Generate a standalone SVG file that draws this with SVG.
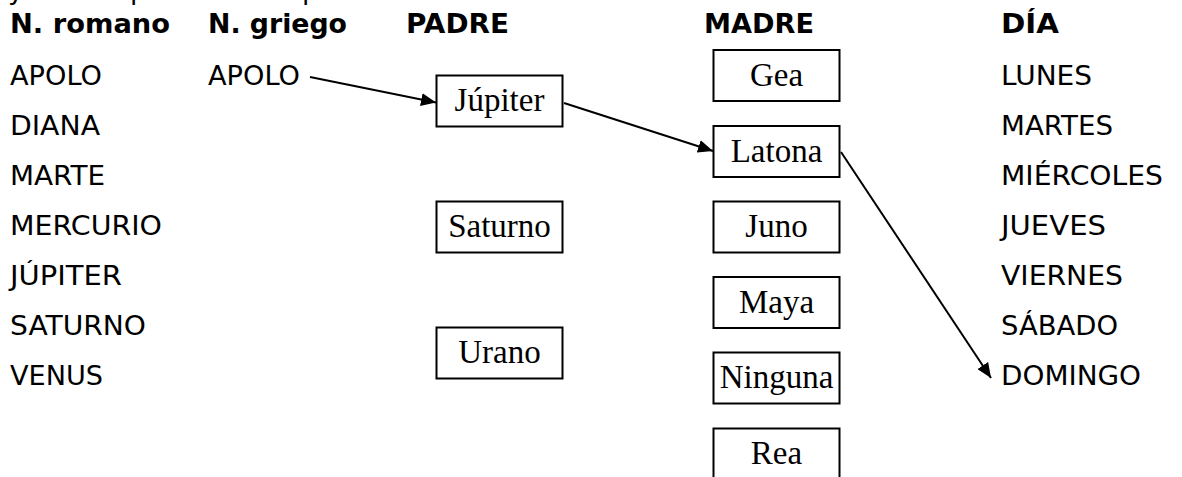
<svg xmlns="http://www.w3.org/2000/svg" width="1182" height="477" viewBox="0 0 1182 477">
<style>
.bg{fill:#ffffff}
.h{font-family:"DejaVu Sans",Verdana,sans-serif;font-size:27px;font-weight:bold;fill:#000}
.t{font-family:"DejaVu Sans",Verdana,sans-serif;font-size:27px;fill:#000}
.box rect{fill:#fff;stroke:#000;stroke-width:2}
.box text{font-family:"Liberation Serif","Times New Roman",serif;font-size:33px;fill:#000;text-anchor:middle}
.conn line{stroke:#000;stroke-width:2;fill:none}
</style>
<defs>
<marker id="ah" markerWidth="15" markerHeight="13" refX="15" refY="6.5" orient="auto" markerUnits="userSpaceOnUse">
<path d="M0,0 L15,6.5 L0,13 Z" fill="#000"/>
</marker>
</defs>
<rect class="bg" x="0" y="0" width="1182" height="477"/>
<g id="cutoff">
<text class="t" x="8" y="-1">y</text>
<text class="t" x="130" y="-1">p</text>
<text class="t" x="302" y="-1">p</text>
</g>
<g id="headers">
<text class="h" x="10" y="33" textLength="160" lengthAdjust="spacingAndGlyphs">N. romano</text>
<text class="h" x="208" y="33" textLength="139" lengthAdjust="spacingAndGlyphs">N. griego</text>
<text class="h" x="406" y="33" textLength="103" lengthAdjust="spacingAndGlyphs">PADRE</text>
<text class="h" x="704" y="33" textLength="110" lengthAdjust="spacingAndGlyphs">MADRE</text>
<text class="h" x="1001" y="33" textLength="58" lengthAdjust="spacingAndGlyphs">DÍA</text>
</g>
<g id="romanos">
<text class="t" x="10" y="85" textLength="92" lengthAdjust="spacingAndGlyphs">APOLO</text>
<text class="t" x="10" y="135" textLength="90" lengthAdjust="spacingAndGlyphs">DIANA</text>
<text class="t" x="10" y="185" textLength="95" lengthAdjust="spacingAndGlyphs">MARTE</text>
<text class="t" x="10" y="235" textLength="152" lengthAdjust="spacingAndGlyphs">MERCURIO</text>
<text class="t" x="10" y="285" textLength="112" lengthAdjust="spacingAndGlyphs">JÚPITER</text>
<text class="t" x="10" y="335" textLength="136" lengthAdjust="spacingAndGlyphs">SATURNO</text>
<text class="t" x="10" y="385" textLength="93" lengthAdjust="spacingAndGlyphs">VENUS</text>
</g>
<g id="griego">
<text class="t" x="208" y="85" textLength="92" lengthAdjust="spacingAndGlyphs">APOLO</text>
</g>
<g id="dias">
<text class="t" x="1001" y="85" textLength="91" lengthAdjust="spacingAndGlyphs">LUNES</text>
<text class="t" x="1001" y="135" textLength="112" lengthAdjust="spacingAndGlyphs">MARTES</text>
<text class="t" x="1001" y="185" textLength="162" lengthAdjust="spacingAndGlyphs">MIÉRCOLES</text>
<text class="t" x="1001" y="235" textLength="105" lengthAdjust="spacingAndGlyphs">JUEVES</text>
<text class="t" x="1001" y="285" textLength="122" lengthAdjust="spacingAndGlyphs">VIERNES</text>
<text class="t" x="1001" y="335" textLength="117" lengthAdjust="spacingAndGlyphs">SÁBADO</text>
<text class="t" x="1001" y="385" textLength="140" lengthAdjust="spacingAndGlyphs">DOMINGO</text>
</g>
<g id="jupiter" class="box"><rect x="436.5" y="75.5" width="126" height="51"/><text x="499.5" y="111">Júpiter</text></g>
<g id="saturno" class="box"><rect x="436.5" y="201.5" width="126" height="51"/><text x="499.5" y="237">Saturno</text></g>
<g id="urano" class="box"><rect x="436.5" y="327.5" width="126" height="51"/><text x="499.5" y="363">Urano</text></g>
<g id="gea" class="box"><rect x="713.5" y="50" width="126" height="51"/><text x="776.5" y="86">Gea</text></g>
<g id="latona" class="box"><rect x="713.5" y="126" width="126" height="51"/><text x="776.5" y="162">Latona</text></g>
<g id="juno" class="box"><rect x="713.5" y="201.5" width="126" height="51"/><text x="776.5" y="237">Juno</text></g>
<g id="maya" class="box"><rect x="713.5" y="277" width="126" height="51"/><text x="776.5" y="313">Maya</text></g>
<g id="ninguna" class="box"><rect x="713.5" y="352.5" width="126" height="51"/><text x="776.5" y="388">Ninguna</text></g>
<g id="rea" class="box"><rect x="713.5" y="428.5" width="126" height="51"/><text x="776.5" y="464">Rea</text></g>
<g id="connectors" class="conn">
<line x1="310" y1="77" x2="436" y2="102.5" marker-end="url(#ah)"/>
<line x1="564" y1="103" x2="713" y2="151" marker-end="url(#ah)"/>
<line x1="841" y1="152" x2="991" y2="378" marker-end="url(#ah)"/>
</g>
</svg>
